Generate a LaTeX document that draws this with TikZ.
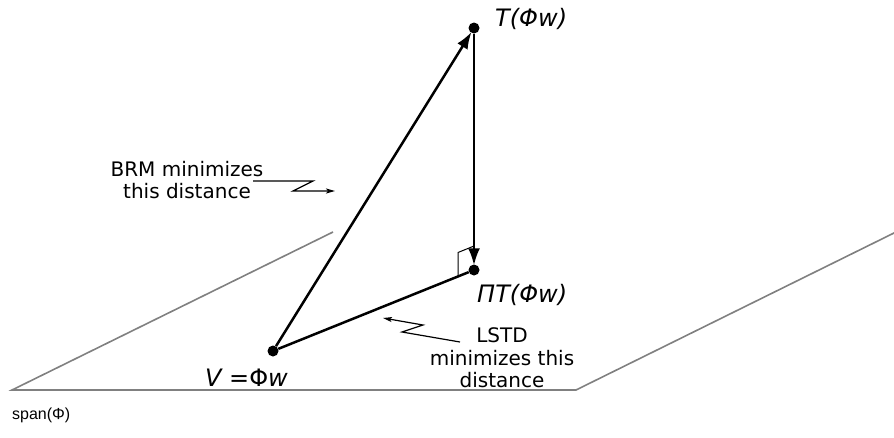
\documentclass[tikz,border=0pt]{standalone}
\usepackage{fontspec}
\setmainfont{DejaVu Sans}
\newfontfamily\spanfont{Liberation Sans}
\usetikzlibrary{arrows.meta}
\begin{document}
\begin{tikzpicture}[x=1pt,y=-1pt,
  dotnode/.style={circle, fill=black, inner sep=0pt, minimum size=11pt},
  planeline/.style={draw=gray, line width=1.6pt},
  vec/.style={line width=2.5pt, shorten >=-1pt, -{Latex[length=17pt,width=12pt]}},
  seg/.style={line width=2.5pt},
  lbl/.style={font=\fontsize{20}{22.5}\selectfont, inner sep=0pt, align=center},
  mathlbl/.style={font=\fontsize{24}{28}\selectfont\itshape, inner sep=0pt},
  zig/.style={line width=1.2pt, -{Stealth[length=9pt,width=5pt,inset=2pt]}},
  rightmark/.style={line width=1pt}]
\useasboundingbox (0,0) rectangle (894,437);
% plane
\coordinate (p1) at (12,390);
\coordinate (p2) at (333,232);
\coordinate (p3) at (576,390);
\coordinate (p4) at (896,232);
\draw[planeline] (p2) -- (p1) -- (p3) -- (p4);
% points
\node[dotnode] (V) at (273,351) {};
\node[dotnode] (T) at (474,28) {};
\node[dotnode] (P) at (474,270) {};
% vectors
\draw[vec] (V) -- (T);
\draw[vec] (T) -- (P);
\draw[seg] (V) -- (P);
% right angle mark
\coordinate (ra1) at (458,276.5);
\coordinate (ra2) at (458,252.5);
\coordinate (ra3) at (474,246);
\draw[rightmark] (ra1) -- (ra2) -- (ra3);
% labels
\node[mathlbl, anchor=base west] (Tl) at (495,26) {T(Φw)};
\node[mathlbl, anchor=base west] (Pl) at (477,302) {ΠT(Φw)};
\node[mathlbl, anchor=base west] (Vl) at (205,386) {V =\upshape Φ\itshape w};
\node[lbl] (brm) at (187,180) {BRM minimizes\\this distance};
\node[lbl] (lstd) at (502,358) {LSTD\\minimizes this\\distance};
\node[font=\spanfont\fontsize{16}{19}\selectfont, anchor=base west, inner sep=0pt] (span) at (12,419) {span(Φ)};
% zigzag pointers
\coordinate (b1) at (253,181);
\coordinate (b2) at (313,181);
\coordinate (b3) at (293,191);
\coordinate (b4) at (335,191);
\draw[zig] (b1) -- (b2) -- (b3) -- (b4);
\coordinate (l1) at (460,342);
\coordinate (l2) at (402,332);
\coordinate (l3) at (423,325);
\coordinate (l4) at (383,318);
\draw[zig] (l1) -- (l2) -- (l3) -- (l4);
\end{tikzpicture}
\end{document}
